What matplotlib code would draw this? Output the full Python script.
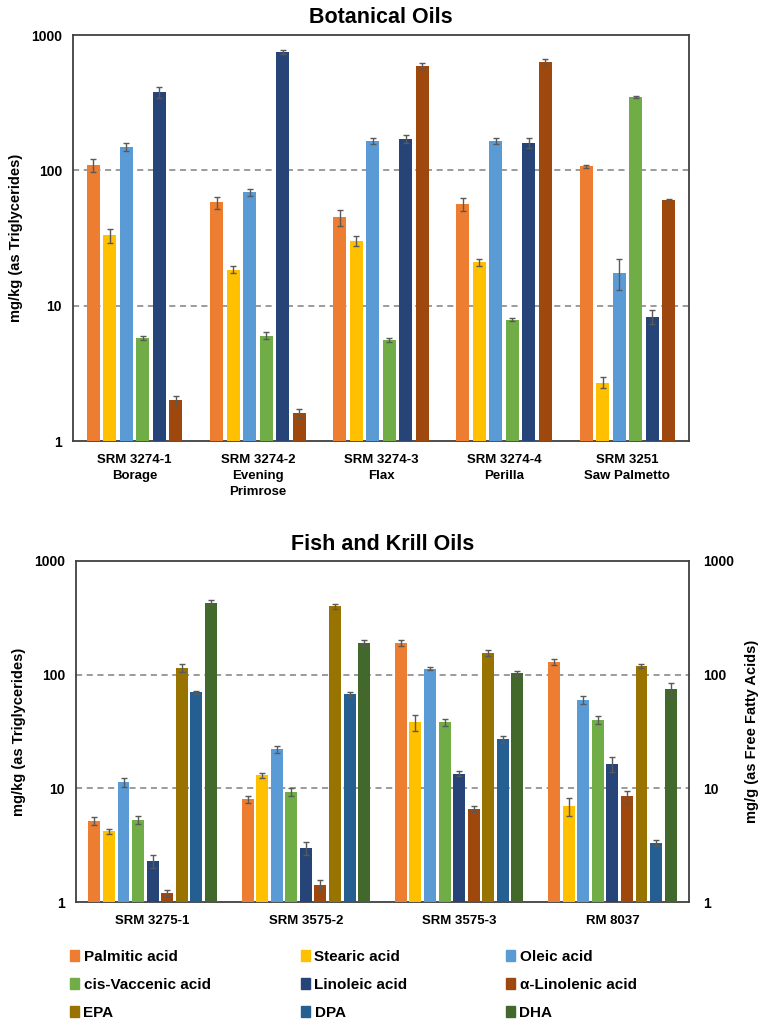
import numpy as np
import matplotlib.pyplot as plt
from matplotlib.patches import Patch

# ===========================
# DATA
# ===========================

acids = ["Palmitic acid", "Stearic acid", "Oleic acid",
         "cis-Vaccenic acid", "Linoleic acid", "α-Linolenic acid",
         "EPA", "DPA", "DHA"]
colors = ["#ED7D31", "#FFC000", "#5B9BD5", "#70AD47", "#264478",
          "#9E480E", "#997300", "#255E91", "#43682B"]

bot_groups = ["SRM 3274-1\nBorage", "SRM 3274-2\nEvening\nPrimrose",
              "SRM 3274-3\nFlax", "SRM 3274-4\nPerilla",
              "SRM 3251\nSaw Palmetto"]
# rows = acid (first six), columns = sample
bot_vals = [
    [110, 58, 45, 56, 107],
    [33, 18.5, 30, 21, 2.7],
    [150, 69, 165, 165, 17.5],
    [5.8, 6.0, 5.6, 7.9, 350],
    [380, 750, 170, 160, 8.3],
    [2.0, 1.6, 590, 630, 60],
]
bot_err = [
    [12, 6, 6, 6, 3],
    [4, 1, 2.5, 1.2, 0.25],
    [10, 4, 8, 8, 4.5],
    [0.2, 0.35, 0.2, 0.2, 5],
    [35, 25, 12, 14, 1.0],
    [0.15, 0.13, 30, 30, 1],
]

fish_groups = ["SRM 3275-1", "SRM 3575-2", "SRM 3575-3", "RM 8037"]
fish_vals = [
    [5.2, 8.0, 190, 130],
    [4.2, 13, 38, 7.0],
    [11.3, 22, 113, 60],
    [5.3, 9.3, 38, 40],
    [2.3, 3.0, 13.5, 16.5],
    [1.2, 1.4, 6.6, 8.5],
    [115, 400, 155, 120],
    [70, 67, 27, 3.3],
    [430, 190, 103, 75],
]
fish_err = [
    [0.4, 0.5, 10, 8],
    [0.2, 0.7, 6, 1.3],
    [1.0, 1.5, 3, 5],
    [0.4, 0.8, 3, 3],
    [0.3, 0.4, 0.6, 2.5],
    [0.08, 0.15, 0.4, 1.0],
    [10, 20, 10, 5],
    [2, 4, 2, 0.2],
    [20, 10, 5, 10],
]

# ===========================
# FIGURE
# ===========================

plt.rcParams["font.family"] = ["Liberation Sans", "DejaVu Sans"]
plt.rcParams["font.weight"] = "bold"

fig = plt.figure(figsize=(7.67, 10.23), dpi=100)
ax1 = fig.add_axes([73 / 767, 1 - 441 / 1023, 616 / 767, 406 / 1023])
ax2 = fig.add_axes([76 / 767, 1 - 902 / 1023, 613 / 767, 341 / 1023])


def draw(ax, groups, vals, errs, step, width):
    n = len(vals)
    x = np.arange(len(groups))
    for i in range(n):
        off = (i - (n - 1) / 2) * step
        ax.bar(x + off, vals[i], width, color=colors[i], zorder=3,
               yerr=errs[i], ecolor="#595959", capsize=2.5,
               error_kw={"elinewidth": 1, "capthick": 1, "zorder": 4})
    ax.set_yscale("log")
    ax.set_ylim(1, 1000)
    ax.set_xlim(-0.5, len(groups) - 0.5)
    ax.set_xticks(x)
    ax.set_xticklabels(groups, fontsize=9.5, fontweight="bold",
                       linespacing=1.45, va="top")
    ax.set_yticks([1, 10, 100, 1000])
    ax.set_yticklabels(["1", "10", "100", "1000"], fontsize=10,
                       fontweight="bold")
    ax.minorticks_off()
    ax.tick_params(length=0, pad=8)
    ax.tick_params(axis="x", pad=9)
    for y in [10, 100]:
        ax.axhline(y, color="#808080", ls=(0, (4, 3)), lw=1.1, zorder=1)
    for s in ax.spines.values():
        s.set_color("#404040")
        s.set_linewidth(1.3)


draw(ax1, bot_groups, bot_vals, bot_err, 0.134, 0.105)
ax1.set_title("Botanical Oils", fontsize=15.5, fontweight="bold", pad=9)
ax1.set_ylabel("mg/kg (as Triglycerides)", fontsize=10.5,
               fontweight="bold", labelpad=6)

draw(ax2, fish_groups, fish_vals, fish_err, 0.095, 0.078)
ax2.set_title("Fish and Krill Oils", fontsize=15.5, fontweight="bold", pad=8)
ax2.set_ylabel("mg/kg (as Triglycerides)", fontsize=10.5,
               fontweight="bold", labelpad=6)

ax3 = ax2.twinx()
ax3.set_yscale("log")
ax3.set_ylim(1, 1000)
ax3.set_yticks([1, 10, 100, 1000])
ax3.set_yticklabels(["1", "10", "100", "1000"], fontsize=10,
                    fontweight="bold")
ax3.minorticks_off()
ax3.tick_params(length=0, pad=10)
ax3.set_ylabel("mg/g (as Free Fatty Acids)", fontsize=10.5,
               fontweight="bold", labelpad=8)
for s in ax3.spines.values():
    s.set_visible(False)

# ===========================
# LEGEND: three single-column legends, placed per column
# ===========================

col_x = [56, 287, 492]
for c in range(3):
    idx = [c, c + 3, c + 6]
    fig.legend([Patch(color=colors[i]) for i in idx],
               [acids[i] for i in idx],
               loc="upper left", ncol=1, frameon=False,
               bbox_to_anchor=(col_x[c] / 767, 1 - 936 / 1023),
               prop={"size": 11, "weight": "bold"},
               handlelength=0.6, handleheight=0.7, handletextpad=0.3,
               labelspacing=0.92)

fig.savefig("out.png", dpi=100)
